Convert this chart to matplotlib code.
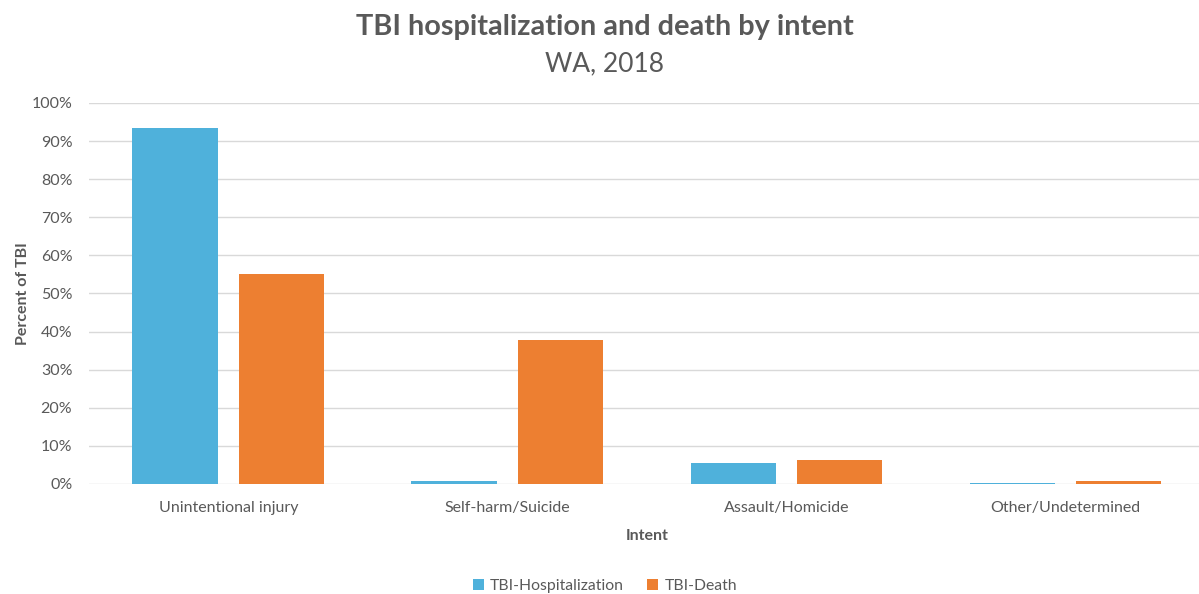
import matplotlib.pyplot as plt
import numpy as np

plt.rcParams['font.family'] = ['Lato', 'DejaVu Sans']

categories = ['Unintentional injury', 'Self-harm/Suicide', 'Assault/Homicide', 'Other/Undetermined']
hospitalization = [93.4, 0.8, 5.4, 0.2]
death = [55.1, 37.8, 6.4, 0.8]

blue = '#4FB1DB'
orange = '#ED7F31'
gray = '#595959'

fig = plt.figure(figsize=(11.99, 5.94), dpi=100)
ax = fig.add_axes([0.0742, 0.1852, 0.9308, 0.6414])

x = np.arange(len(categories))
w = 0.308
ax.bar(x - 0.19, hospitalization, w, color=blue, label='TBI-Hospitalization', zorder=3)
ax.bar(x + 0.19, death, w, color=orange, label='TBI-Death', zorder=3)

ax.set_xlim(-0.5, len(categories) - 0.5)
ax.set_ylim(0, 100)
ax.set_yticks(np.arange(0, 101, 10))
ax.set_yticklabels([f'{v}%' for v in range(0, 101, 10)])
ax.set_xticks(x)
ax.set_xticklabels(categories)
ax.grid(axis='y', color='#d9d9d9', linewidth=1, zorder=0)
for s in ax.spines.values():
    s.set_visible(False)
ax.tick_params(length=0, colors=gray, labelsize=11.5)
ax.tick_params(axis='x', pad=12)
ax.tick_params(axis='y', pad=12)

ax.set_ylabel('Percent of TBI', fontsize=11.5, fontweight='bold', color=gray, labelpad=1)
ax.set_xlabel('Intent', fontsize=11.5, fontweight='bold', color=gray, labelpad=10)

fig.text(0.5045, 0.954, 'TBI hospitalization and death by intent', ha='center', va='center',
         fontsize=20.8, fontweight='bold', color=gray)
fig.text(0.5045, 0.893, 'WA, 2018', ha='center', va='center', fontsize=19, color=gray)

leg = fig.legend(loc='center', bbox_to_anchor=(0.5045, 0.013), ncol=2, frameon=False,
                 fontsize=11.3, handlelength=0.7, handleheight=0.7, columnspacing=1.5,
                 handletextpad=0.4)
for t in leg.get_texts():
    t.set_color(gray)

fig.savefig('out.png', dpi=100)
